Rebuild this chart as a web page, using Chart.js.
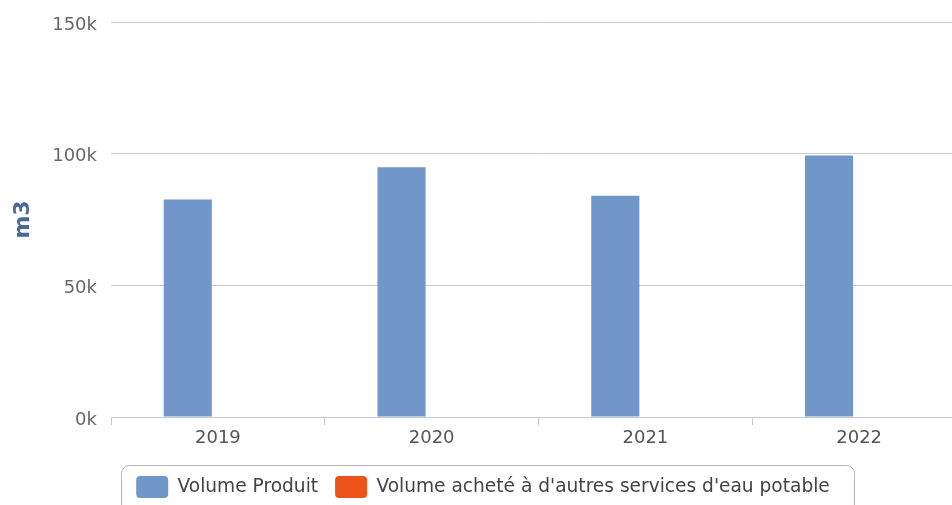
<!DOCTYPE html>
<html>
<head>
<meta charset="utf-8">
<script src="https://cdn.jsdelivr.net/npm/chart.js@4"></script>
<style>
html,body{margin:0;padding:0;background:#fff;overflow:hidden;}
#wrap{width:969px;height:508px;position:relative;}
</style>
</head>
<body>
<div id="wrap"><canvas id="c" width="969" height="508"></canvas></div>
<script>
const categories = ['2019', '2020', '2021', '2022'];
const seriesNames = ['Volume Produit', "Volume acheté à d'autres services d'eau potable"];
const volumeProduit = [82600, 94800, 84000, 99300];
const volumeAchete = [0, 0, 0, 0];
const yTickValues = [0, 50000, 100000, 150000];
const yTitle = 'm3';

const FONT = "'DejaVu Sans', Verdana, sans-serif";

const legendBorder = {
  id: 'legendBorder',
  afterDraw(chart) {
    const lg = chart.legend;
    if (!lg || !lg.legendHitBoxes || !lg.legendHitBoxes.length) return;
    const hb = lg.legendHitBoxes;
    const l = Math.round(hb[0].left - 15) + 0.5;
    const r = Math.round(hb[hb.length - 1].left + hb[hb.length - 1].width + 24) + 0.5;
    const t = 465.5;
    const b = chart.height + 20;
    const rad = 8;
    const ctx = chart.ctx;
    ctx.save();
    ctx.strokeStyle = '#b4b4b4';
    ctx.lineWidth = 1;
    ctx.beginPath();
    ctx.moveTo(l, b);
    ctx.lineTo(l, t + rad);
    ctx.arcTo(l, t, l + rad, t, rad);
    ctx.lineTo(r - rad, t);
    ctx.arcTo(r, t, r, t + rad, rad);
    ctx.lineTo(r, b);
    ctx.stroke();
    ctx.restore();
  }
};

new Chart(document.getElementById('c'), {
  type: 'bar',
  data: {
    labels: categories,
    datasets: [
      { label: seriesNames[0], data: volumeProduit, backgroundColor: '#7096ca', borderWidth: 0, borderRadius: 0 },
      { label: seriesNames[1], data: volumeAchete, backgroundColor: '#ec5419', borderWidth: 0, borderRadius: 0 }
    ]
  },
  options: {
    responsive: false,
    animation: false,
    events: [],
    datasets: { bar: { categoryPercentage: 0.563, barPercentage: 0.8 } },
    layout: { padding: { top: 22, right: 3, left: 0, bottom: 0 } },
    plugins: {
      tooltip: { enabled: false },
      legend: {
        position: 'bottom',
        labels: {
          font: { family: FONT, size: 18.6 },
          color: '#444',
          boxWidth: 32,
          boxHeight: 22,
          padding: 17,
          useBorderRadius: true,
          borderRadius: 4
        }
      }
    },
    scales: {
      x: {
        offset: true,
        grid: { display: true, offset: true, drawOnChartArea: false, drawTicks: true, tickLength: 8, color: '#c8c8c8' },
        border: { display: true, color: '#c3c9d1', width: 1 },
        ticks: { font: { family: FONT, size: 18 }, color: '#555', padding: 3 },
        afterFit(scale) { scale.height = 42; }
      },
      y: {
        min: 0,
        max: 150000,
        afterBuildTicks(scale) { scale.ticks = yTickValues.map(v => ({ value: v })); },
        grid: { color: '#cccccc', drawTicks: false },
        border: { display: false },
        ticks: {
          font: { family: FONT, size: 18 },
          color: '#666',
          padding: 14,
          labelOffset: 3,
          callback: v => (v / 1000) + 'k'
        },
        title: {
          display: true,
          text: yTitle,
          color: '#4a6896',
          font: { family: FONT, size: 22, weight: 'bold' },
          padding: { top: 10, bottom: 0 }
        },
        afterFit(scale) { scale.width = 111; scale.paddingTop = 11; }
      }
    }
  },
  plugins: [legendBorder]
});
</script>
</body>
</html>
